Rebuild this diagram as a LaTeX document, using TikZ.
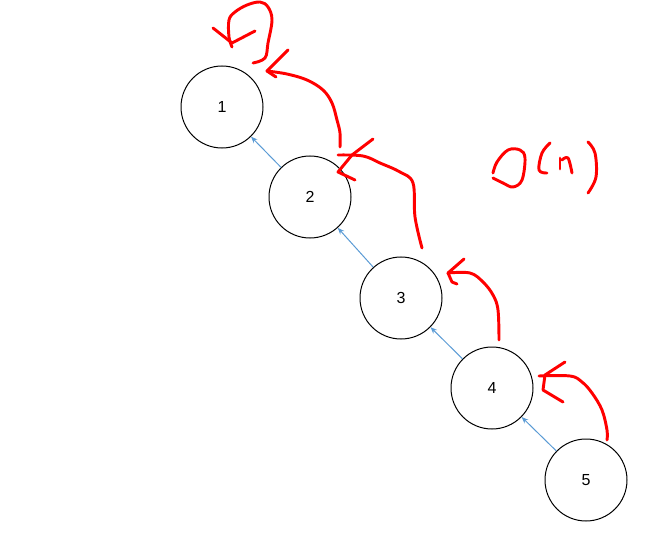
\documentclass[tikz,border=0pt]{standalone}
\usepackage{fontspec}
\setmainfont{Liberation Sans}
\usetikzlibrary{arrows.meta}
\definecolor{linkblue}{RGB}{91,155,213}
\begin{document}
\begin{tikzpicture}[x=0.75pt,y=-0.75pt,
  vertex/.style={circle,draw,line width=0.75pt,minimum size=61.5pt,inner sep=0pt,font=\fontsize{12}{14}\selectfont},
  parent/.style={draw=linkblue,line width=0.75pt,-{Stealth[length=5pt,width=4pt]}},
  redink/.style={draw=red,line width=2.2pt,line cap=round,line join=round}]
\useasboundingbox (0,0) rectangle (665,535);
% tree as a chain
\node[vertex] (n1) at (222,107) {1};
\node[vertex] (n2) at (310,197) {2};
\node[vertex] (n3) at (401,298) {3};
\node[vertex] (n4) at (492,388) {4};
\node[vertex] (n5) at (586,480) {5};
\draw[parent] (n2) -- (n1);
\draw[parent] (n3) -- (n2);
\draw[parent] (n4) -- (n3);
\draw[parent] (n5) -- (n4);
% red pen strokes
\draw[redink] plot[smooth,tension=0.6] coordinates {(253,63) (265,58) (268,43) (272,20) (268,7) (260,2) (247,5) (235,12) (229,20) (229,37) (232,47)};
\draw[redink] (213,28) -- (232,43) -- (255,31);
\draw[redink] (288,50) -- (267,71) -- (276,77);
\draw[redink] plot[smooth,tension=0.6] coordinates {(340,147) (340,133) (337,120) (332,103) (323,90) (307,80) (287,74) (267,71)};
\draw[redink] (373,139) -- (352,155) -- (338,172) -- (355,180);
\draw[redink] plot[smooth,tension=0.6] coordinates {(422,248) (415,217) (413,183) (400,172) (380,163) (363,156) (338,155)};
\draw[redink] (464,259) -- (448,273) -- (452,282) -- (457,284);
\draw[redink] plot[smooth,tension=0.6] coordinates {(499,340) (498,310) (493,295) (483,282) (470,273) (448,273)};
\draw[redink] (565,362) -- (545,375) -- (543,390) -- (563,402);
\draw[redink] plot[smooth,tension=0.6] coordinates {(607,440) (607,430) (602,410) (592,393) (582,382) (570,376) (539,376)};
% O(n)
\draw[redink] plot[smooth,tension=0.6] coordinates {(493,173) (497,162) (508,150) (520,150) (525,158) (522,180) (513,187) (503,183) (493,178)};
\draw[redink] plot[smooth,tension=0.6] coordinates {(550,143) (542,153) (539,170) (547,173)};
\draw[redink] (560,158) -- (560,169);
\draw[redink] plot[smooth,tension=0.6] coordinates {(562,160) (568,158) (572,173)};
\draw[redink] plot[smooth,tension=0.6] coordinates {(588,142) (595,153) (596,177) (588,193)};
\end{tikzpicture}
\end{document}
